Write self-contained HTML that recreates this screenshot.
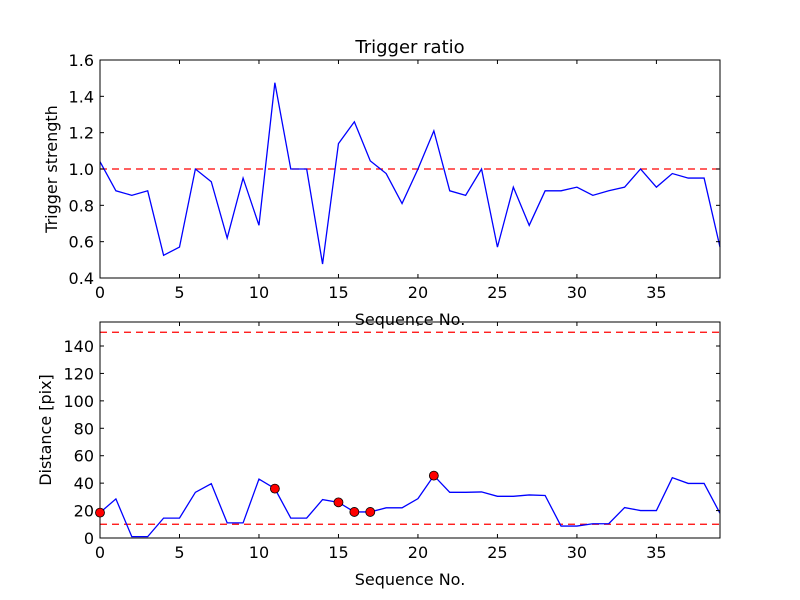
<!DOCTYPE html>
<html><head><meta charset="utf-8"><style>
html,body{margin:0;padding:0;background:#fff;}
svg{display:block;font-family:"DejaVu Sans","Liberation Sans",sans-serif;}
</style></head><body>
<svg id="chart" width="800" height="600" viewBox="0 0 800 600" xmlns="http://www.w3.org/2000/svg">
<rect x="0" y="0" width="800" height="600" fill="#fff"/>
</svg>
<script>
const sequence = Array.from({length:40},(_,i)=>i);
const triggerStrength = [1.04,0.88,0.855,0.88,0.525,0.57,1.0,0.93,0.62,0.95,0.69,1.475,1.0,1.0,0.477,1.14,1.26,1.045,0.975,0.81,1.0,1.21,0.88,0.855,1.0,0.57,0.90,0.69,0.88,0.88,0.90,0.855,0.88,0.90,1.0,0.90,0.975,0.95,0.95,0.57];
const distance = [18.5,28.5,1,1,14.5,14.5,33.3,39.6,11,11,43,36,14.5,14.5,28,26,19,19,22,22,28.7,45.5,33.3,33.3,33.6,30.4,30.4,31.4,31,8.7,8.7,10.4,10.4,22.2,20,20,44,39.8,39.8,18];
const flaggedIdx = [0,11,15,16,17,21];
const topThresholds = [1.0];
const bottomThresholds = [10,150];
const xTicks = [0,5,10,15,20,25,30,35];
const topYTicks = [0.4,0.6,0.8,1.0,1.2,1.4,1.6];
const bottomYTicks = [0,20,40,60,80,100,120,140];

const svg = document.getElementById('chart');
const NS = 'http://www.w3.org/2000/svg';
function mk(tag, attrs, parent){const e=document.createElementNS(NS,tag);for(const k in attrs)e.setAttribute(k,attrs[k]);(parent||svg).appendChild(e);return e;}

const L=100,R=720;
const xS = v => L + (v-0)/(39-0)*(R-L);

function panel(name, top, bottom, ymin, ymax, yTicks, fmt, series, thresholds, ylabel, title){
  const g = mk('g',{});
  
  
  const yS = v => bottom - (v-ymin)/(ymax-ymin)*(bottom-top);
  thresholds.forEach(t=>{
    const l = mk('line',{x1:L,x2:R,y1:yS(t),y2:yS(t),stroke:'#ff0000','stroke-width':1.2,'stroke-dasharray':'7,5'},g);
    
    
  });
  const pts = series.map((v,i)=>xS(sequence[i]).toFixed(2)+','+yS(v).toFixed(2)).join(' ');
  const pl = mk('polyline',{points:pts,fill:'none',stroke:'#0000ff','stroke-width':1.3},g);
  
  
  const fr = mk('rect',{x:L,y:top,width:R-L,height:bottom-top,fill:'none',stroke:'#000','stroke-width':1},g);
  
  
  xTicks.forEach(t=>{
    const x=xS(t);
    mk('line',{x1:x,x2:x,y1:bottom,y2:bottom-4,stroke:'#000'},g);
    mk('line',{x1:x,x2:x,y1:top,y2:top+4,stroke:'#000'},g);
    const tx = mk('text',{x:x,y:bottom+20,'text-anchor':'middle','font-size':16,fill:'#000'},g);
    tx.textContent=t;
    
    
  });
  yTicks.forEach(t=>{
    const y=yS(t);
    mk('line',{x1:L,x2:L+4,y1:y,y2:y,stroke:'#000'},g);
    mk('line',{x1:R,x2:R-4,y1:y,y2:y,stroke:'#000'},g);
    const tx = mk('text',{x:L-6,y:y+6,'text-anchor':'end','font-size':16,fill:'#000'},g);
    tx.textContent=fmt(t);
    
    
  });
  const xl = mk('text',{x:(L+R)/2,y:bottom+47,'text-anchor':'middle','font-size':16,fill:'#000'},g);
  xl.textContent='Sequence No.';
  
  
  const cy=(top+bottom)/2;
  const yl = mk('text',{x:0,y:0,'text-anchor':'middle','font-size':16,fill:'#000',transform:`translate(${name==='top-panel'?57:51},${cy}) rotate(-90)`},g);
  yl.textContent=ylabel;
  
  
  if(title){
    const tt = mk('text',{x:(L+R)/2,y:top-7,'text-anchor':'middle','font-size':18,fill:'#000'},g);
    tt.textContent=title;
    
    
  }
  return {g,yS};
}

panel('top-panel',60,278,0.4,1.6,topYTicks,v=>v.toFixed(1),triggerStrength,topThresholds,'Trigger strength','Trigger ratio');
const bot = panel('bottom-panel',322,538,0,157.5,bottomYTicks,v=>String(v),distance,bottomThresholds,'Distance [pix]',null);
flaggedIdx.forEach(i=>{
  const c = mk('circle',{cx:xS(sequence[i]),cy:bot.yS(distance[i]),r:4.5,fill:'#ff0000',stroke:'#000','stroke-width':0.8},bot.g);
  
  
});
</script>
</body></html>
